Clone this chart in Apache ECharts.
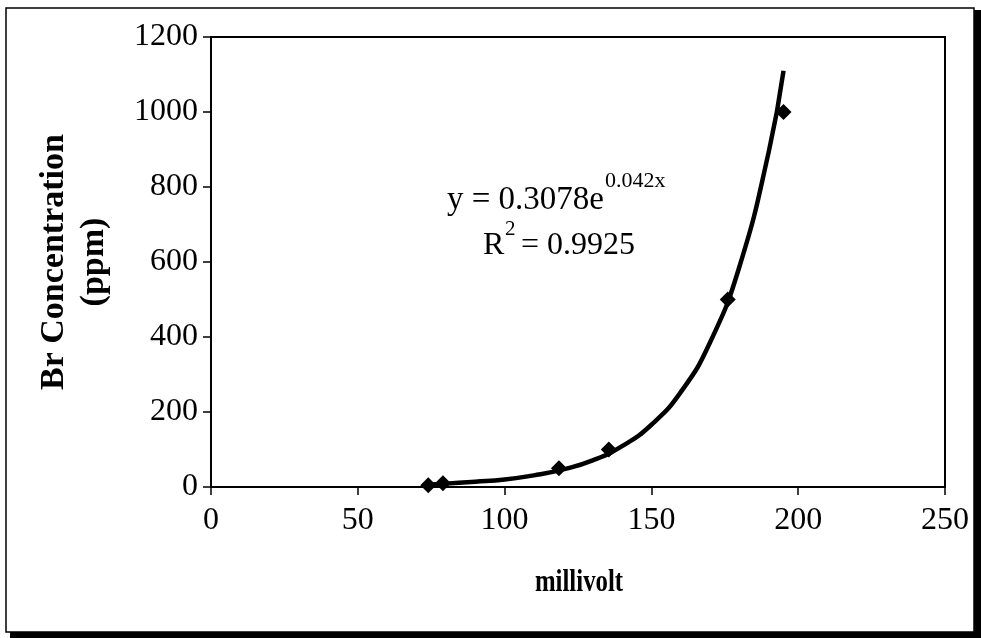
<!DOCTYPE html>
<html>
<head>
<meta charset="utf-8">
<script src="https://cdn.jsdelivr.net/npm/echarts@6/dist/echarts.min.js"></script>
<style>
html,body{margin:0;padding:0;background:#fff;}
#chart{width:981px;height:638px;}
</style>
</head>
<body>
<div id="chart"></div>
<script>
// Measured points
var millivolt = [74, 79, 118.5, 135.5, 176, 195];
var brPpm = [5, 10, 50, 100, 500, 1000];
// Trendline values
var trendX = [74, 80, 90, 100, 110, 120, 130, 140, 150, 160, 170, 180, 190, 195];
var trendY = [7, 9, 14, 20, 31, 47, 71, 109, 166, 253, 386, 588, 895, 1110];
// Axis ticks
var xTicks = [0, 50, 100, 150, 200, 250];
var yTicks = [0, 200, 400, 600, 800, 1000, 1200];
var xTitle = 'millivolt';
var yTitle = 'Br Concentration\n(ppm)';
var eqMain = 'y = 0.3078e';
var eqExp = '0.042x';
var eqR = 'R';
var eqR2 = '2';
var eqRval = ' = 0.9925';

var FONT = '"Liberation Serif", "Times New Roman", serif';
var chart = echarts.init(document.getElementById('chart'), null, {renderer: 'canvas'});

var pts = millivolt.map(function (x, i) { return [x, brPpm[i]]; });
var trend = trendX.map(function (x, i) { return [x, trendY[i]]; });

chart.setOption({
  animation: false,
  backgroundColor: '#fff',
  grid: {
    left: 211, right: 36, top: 37, bottom: 151,
    show: true, borderColor: '#000', borderWidth: 2, backgroundColor: 'transparent'
  },
  xAxis: {
    type: 'value', min: xTicks[0], max: xTicks[xTicks.length - 1], interval: 50,
    axisLine: {show: true, lineStyle: {color: '#000', width: 2}},
    axisTick: {show: true, inside: false, length: 8, lineStyle: {color: '#000', width: 1.5}},
    axisLabel: {color: '#000', fontFamily: FONT, fontSize: 32, margin: 18,
                formatter: function (v) { return String(v); }},
    splitLine: {show: false}
  },
  yAxis: {
    type: 'value', min: yTicks[0], max: yTicks[yTicks.length - 1], interval: 200,
    axisLine: {show: true, lineStyle: {color: '#000', width: 2}},
    axisTick: {show: true, inside: false, length: 8, lineStyle: {color: '#000', width: 1.5}},
    axisLabel: {color: '#000', fontFamily: FONT, fontSize: 32, margin: 13,
                formatter: function (v) { return String(v); }},
    splitLine: {show: false}
  },
  series: [
    {
      type: 'line', data: trend, smooth: true, showSymbol: false, symbol: 'none',
      lineStyle: {color: '#000', width: 4.5}, z: 2
    },
    {
      type: 'scatter', data: pts, symbol: 'diamond', symbolSize: 16,
      itemStyle: {color: '#000', opacity: 1}, z: 3
    }
  ],
  graphic: [
    {type: 'rect', shape: {x: 6, y: 8, width: 968, height: 624},
     style: {fill: 'none', stroke: '#000', lineWidth: 1.5}, silent: true},
    {type: 'rect', shape: {x: 974, y: 10, width: 7, height: 628},
     style: {fill: '#000'}, silent: true},
    {type: 'rect', shape: {x: 10, y: 632, width: 971, height: 6},
     style: {fill: '#000'}, silent: true},
    {type: 'text', x: 74, y: 262, rotation: Math.PI / 2,
     style: {text: yTitle, align: 'center', verticalAlign: 'middle',
             font: 'bold 34px ' + FONT, fill: '#000', lineHeight: 40}},
    {type: 'text', x: 579, y: 583, scaleX: 0.8,
     style: {text: xTitle, align: 'center', verticalAlign: 'middle',
             font: 'bold 31px ' + FONT, fill: '#000'}},
    {type: 'text', x: 447, y: 200,
     style: {text: eqMain, align: 'left', verticalAlign: 'middle',
             font: '33px ' + FONT, fill: '#000'}},
    {type: 'text', x: 605, y: 181,
     style: {text: eqExp, align: 'left', verticalAlign: 'middle',
             font: '22px ' + FONT, fill: '#000'}},
    {type: 'text', x: 483, y: 246,
     style: {text: eqR, align: 'left', verticalAlign: 'middle',
             font: '32px ' + FONT, fill: '#000'}},
    {type: 'text', x: 505, y: 229,
     style: {text: eqR2, align: 'left', verticalAlign: 'middle',
             font: '21px ' + FONT, fill: '#000'}},
    {type: 'text', x: 513, y: 246,
     style: {text: eqRval, align: 'left', verticalAlign: 'middle',
             font: '32px ' + FONT, fill: '#000'}}
  ]
});
</script>
</body>
</html>
